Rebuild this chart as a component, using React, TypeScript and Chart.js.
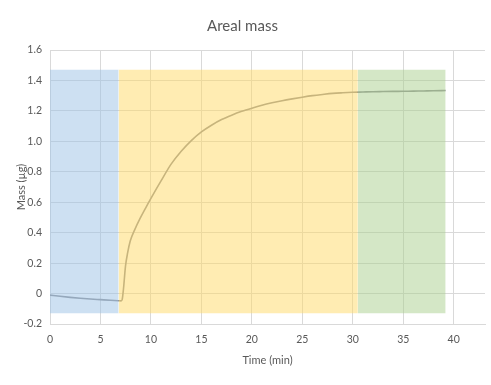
import React, { useEffect, useRef } from "react";
import { Chart, registerables } from "chart.js";

Chart.register(...registerables);

const timeMin = [0, 1, 2, 3, 4, 5, 6, 6.8, 7.05, 7.15, 7.28, 7.48, 7.7, 7.95, 8.4, 8.9, 9.5, 10, 11, 12, 13, 14, 15, 16, 17, 18, 19, 20, 21, 22, 23, 24, 25, 26, 27, 28, 29, 30, 31, 32, 33, 34, 35, 36, 37, 38, 39.2];
const massUg = [-0.01, -0.018, -0.025, -0.031, -0.036, -0.04, -0.044, -0.047, -0.048, -0.04, 0.03, 0.18, 0.27, 0.345, 0.42, 0.49, 0.565, 0.625, 0.74, 0.85, 0.935, 1.005, 1.062, 1.106, 1.143, 1.172, 1.197, 1.218, 1.237, 1.253, 1.267, 1.279, 1.29, 1.3, 1.308, 1.315, 1.319, 1.322, 1.324, 1.326, 1.327, 1.328, 1.329, 1.33, 1.331, 1.332, 1.334];

const xTickValues = [0, 5, 10, 15, 20, 25, 30, 35, 40];

const regionStart = [0, 6.8, 30.5];
const regionEnd = [6.8, 30.5, 39.2];
const regionColors = ["rgba(155,194,230,0.5)", "rgba(255,217,102,0.5)", "rgba(169,208,142,0.5)"];
const regionTop = 1.47;
const regionBottom = -0.13;

const FONT = "Lato, 'Open Sans', sans-serif";

export default function App() {
  const ref = useRef<HTMLCanvasElement | null>(null);
  useEffect(() => {
    if (!ref.current) return;
    const regionSets = regionStart.map((s, i) => ({
      type: "scatter" as const,
      data: [
        { x: s, y: regionTop },
        { x: regionEnd[i], y: regionTop },
      ],
      showLine: true,
      borderWidth: 0,
      borderColor: "rgba(0,0,0,0)",
      backgroundColor: regionColors[i],
      fill: { value: regionBottom },
      pointRadius: 0,
      tension: 0,
      order: 0,
    }));
    const chart = new Chart(ref.current, {
      type: "scatter",
      data: {
        datasets: [
          ...regionSets,
          {
            type: "scatter",
            data: timeMin.map((t, i) => ({ x: t, y: massUg[i] })),
            showLine: true,
            borderColor: "#8f8f93",
            borderWidth: 1.6,
            pointRadius: 0,
            cubicInterpolationMode: "monotone",
            fill: false,
            order: 5,
          } as any,
        ],
      },
      options: {
        animation: false,
        responsive: false,
        maintainAspectRatio: false,
        layout: { padding: { right: 6, left: 0, top: 0, bottom: 0 } },
        plugins: {
          legend: { display: false },
          tooltip: { enabled: false },
          title: {
            display: true,
            text: "Areal mass",
            color: "#595959",
            font: { family: FONT, size: 15, weight: "normal" },
            padding: { top: 17, bottom: 15 },
          },
        },
        scales: {
          x: {
            type: "linear",
            min: 0,
            max: 43.1,
            afterBuildTicks: (scale: any) => {
              scale.ticks = xTickValues.map((v) => ({ value: v }));
            },
            afterFit: (scale: any) => {
              scale.height = 61;
            },
            ticks: {
              color: "#595959",
              font: { family: FONT, size: 10.5 },
              padding: 9,
              maxRotation: 0,
            },
            grid: { color: "#d9d9d9", drawTicks: false },
            border: { color: "#d9d9d9" },
            title: {
              display: true,
              text: "Time (min)",
              color: "#595959",
              font: { family: FONT, size: 11 },
              padding: { top: 10, bottom: 18 },
            },
          },
          y: {
            type: "linear",
            min: -0.2,
            max: 1.6,
            afterFit: (scale: any) => {
              scale.width = 50;
            },
            ticks: {
              stepSize: 0.2,
              color: "#595959",
              font: { family: FONT, size: 10.5 },
              padding: 8,
            },
            grid: { color: "#d9d9d9", drawTicks: false },
            border: { display: false },
            title: {
              display: true,
              text: "Mass (µg)",
              color: "#595959",
              font: { family: FONT, size: 11 },
              padding: { top: 15 },
            },
          },
        },
      },
    });
    return () => chart.destroy();
  }, []);
  return (
    <div style={{ position: "fixed", left: 0, top: 0, width: 491, height: 385, background: "#fff" }}>
      <canvas ref={ref} width={491} height={385} style={{ width: 491, height: 385 }} />
    </div>
  );
}
